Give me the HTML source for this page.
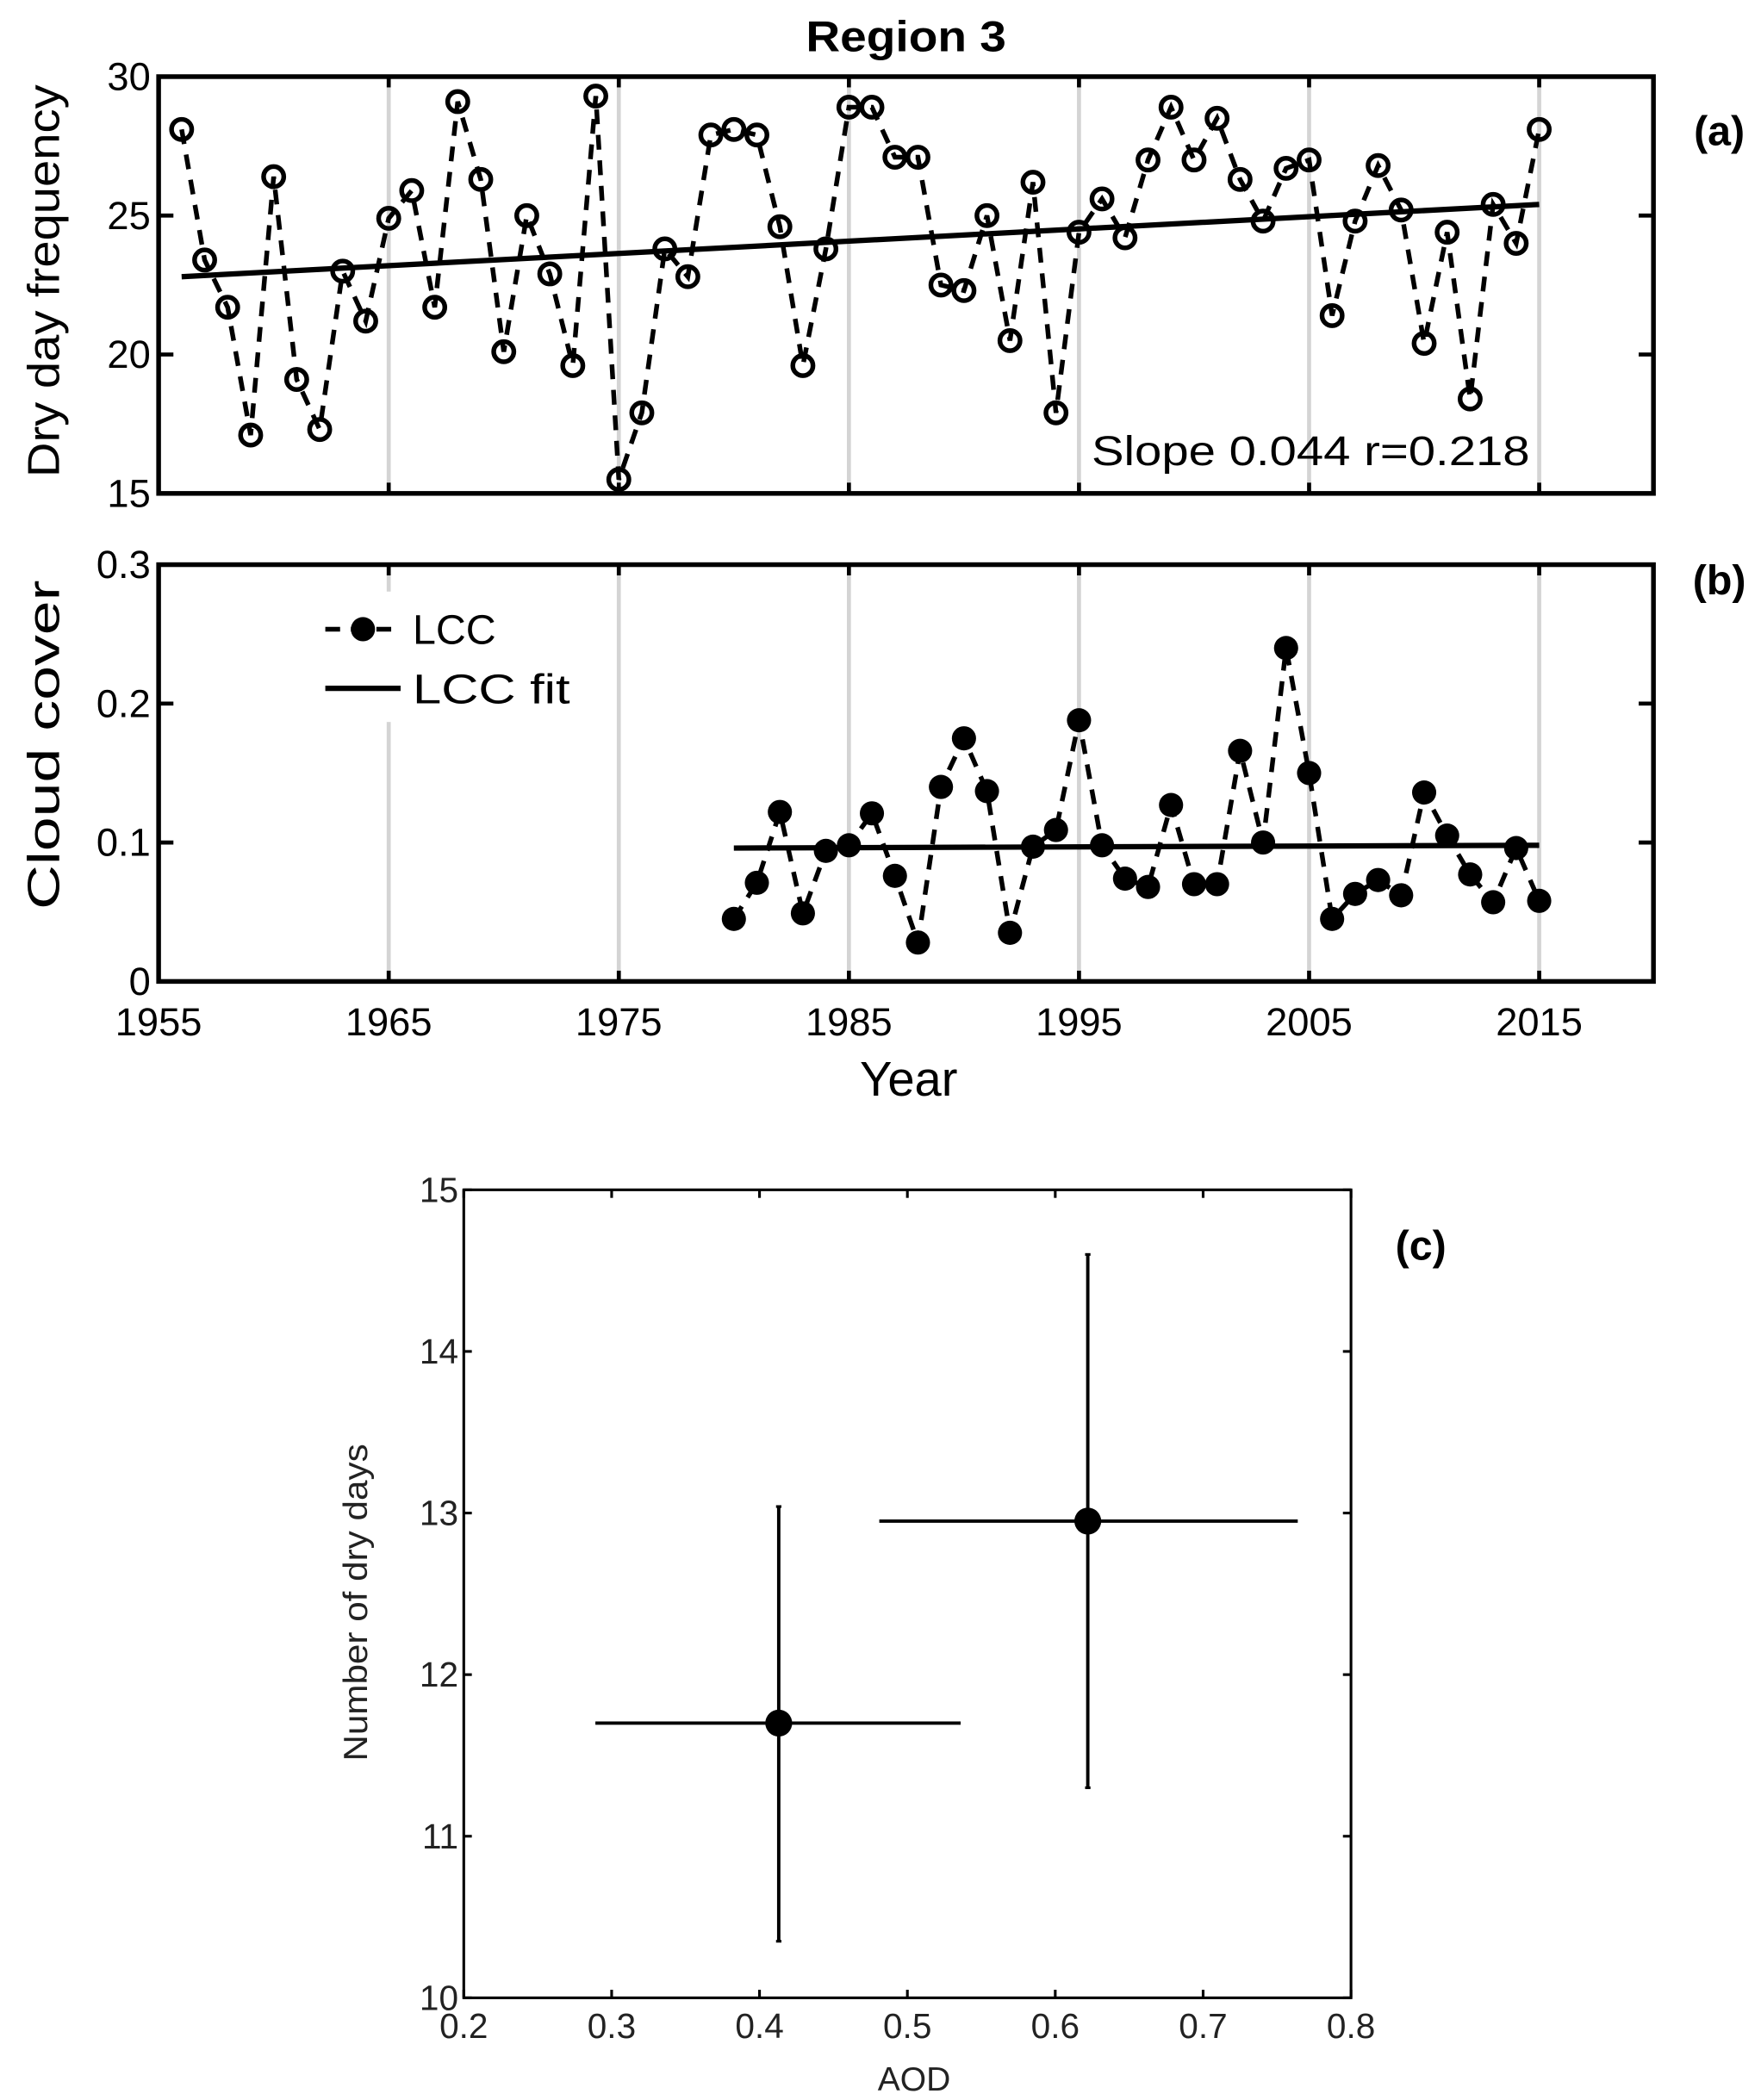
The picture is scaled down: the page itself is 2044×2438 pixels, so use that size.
<!DOCTYPE html>
<html><head><meta charset="utf-8"><style>
html,body{margin:0;padding:0;background:#fff}
svg{display:block}
text{font-family:"Liberation Sans",Arial,sans-serif}
</style></head><body>
<svg id="fig" width="2044" height="2438" viewBox="0 0 1310 1562" preserveAspectRatio="none" xmlns="http://www.w3.org/2000/svg">
<g id="pa"></g>
<g id="pb"></g>
<g id="pc"></g>
</svg>
<script>
const yearsA = [];
for (let y = 1956; y <= 2015; y++) yearsA.push(y);
const dryDays = [28.1,23.4,21.7,17.1,26.4,19.1,17.3,23.0,21.2,24.9,25.9,21.7,29.1,26.3,20.1,25.0,22.9,19.6,29.3,15.5,17.9,23.8,22.8,27.9,28.1,27.9,24.6,19.6,23.8,28.9,28.9,27.1,27.1,22.5,22.3,25.0,20.5,26.2,17.9,24.4,25.6,24.2,27.0,28.9,27.0,28.5,26.3,24.8,26.7,27.0,21.4,24.8,26.8,25.2,20.4,24.4,18.4,25.4,24.0,28.1];
const dryFit = [[1956,22.8],[2015,25.4]];
const yearsB = [];
for (let y = 1980; y <= 2015; y++) yearsB.push(y);
const lcc = [0.045,0.071,0.122,0.049,0.094,0.098,0.121,0.076,0.028,0.140,0.175,0.137,0.035,0.097,0.109,0.188,0.098,0.074,0.068,0.127,0.070,0.070,0.166,0.100,0.240,0.150,0.045,0.063,0.073,0.062,0.136,0.105,0.077,0.057,0.096,0.058];
const lccFit = [[1980,0.096],[2015,0.098]];
const xTicksYear = [1955,1965,1975,1985,1995,2005,2015];
const yTicksA = [15,20,25,30];
const yTicksB = [0,0.1,0.2,0.3];
const yTickLabelsB = ['0','0.1','0.2','0.3'];
const aod = [0.413,0.622];
const aodLo = [0.289,0.481];
const aodHi = [0.536,0.764];
const nDry = [11.7,12.95];
const nDryLo = [10.35,11.3];
const nDryHi = [13.04,14.6];
const xTicksC = [0.2,0.3,0.4,0.5,0.6,0.7,0.8];
const yTicksC = [10,11,12,13,14,15];

const NS='http://www.w3.org/2000/svg';
function mk(parent, tag, attrs, txt){
  const e=document.createElementNS(NS,tag);
  for(const k in attrs) e.setAttribute(k,attrs[k]);
  if(txt!==undefined) e.textContent=txt;
  parent.appendChild(e); return e;
}
const L=118,R=1230;
const X=y=>L+(y-1955)*(1145-L)/60;
const YA=v=>367-(v-15)*(367-57)/15;
const YB=v=>730-v*(310/0.3);

// Panel A
const pa=document.getElementById('pa');
let t=mk(pa,'text',{x:674,y:38,'font-size':32,'font-weight':'bold','text-anchor':'middle',textLength:149,lengthAdjust:'spacingAndGlyphs'},'Region 3');


function grid(g,top,bot){
  xTicksYear.slice(1).forEach(y=>{
    const l=mk(g,'line',{x1:X(y),x2:X(y),y1:top,y2:bot,stroke:'#d4d4d4','stroke-width':3});
    
    
    mk(g,'line',{x1:X(y),x2:X(y),y1:top,y2:top+8,stroke:'#000','stroke-width':3});
    mk(g,'line',{x1:X(y),x2:X(y),y1:bot,y2:bot-8,stroke:'#000','stroke-width':3});
  });
}
grid(pa,57,367);
let d='';
yearsA.forEach((y,i)=>{d+=(i?'L':'M')+X(y)+','+YA(dryDays[i]);});
let p=mk(pa,'path',{d:d,fill:'none',stroke:'#000','stroke-width':3.5,'stroke-dasharray':'11,8'});


let fl=mk(pa,'line',{x1:X(dryFit[0][0]),y1:YA(dryFit[0][1]),x2:X(dryFit[1][0]),y2:YA(dryFit[1][1]),stroke:'#000','stroke-width':4});


yearsA.forEach((y,i)=>{
  const c=mk(pa,'circle',{cx:X(y),cy:YA(dryDays[i]),r:7.5,fill:'none',stroke:'#000','stroke-width':3.5});
  
  
});
let bx=mk(pa,'rect',{x:L,y:57,width:R-L,height:310,fill:'none',stroke:'#000','stroke-width':3.5});


yTicksA.forEach(v=>{
  mk(pa,'line',{x1:L,x2:L+11,y1:YA(v),y2:YA(v),stroke:'#000','stroke-width':3});
  mk(pa,'line',{x1:R,x2:R-11,y1:YA(v),y2:YA(v),stroke:'#000','stroke-width':3});
  const tt=mk(pa,'text',{x:L-6,y:YA(v)+10,'font-size':29,'text-anchor':'end'},String(v));
  
  
});
t=mk(pa,'text',{x:0,y:0,'font-size':33,'text-anchor':'middle',transform:'translate(44,209) rotate(-90)',textLength:292,lengthAdjust:'spacingAndGlyphs'},'Dry day frequency');


t=mk(pa,'text',{x:975,y:346,'font-size':31,'text-anchor':'middle',textLength:326,lengthAdjust:'spacingAndGlyphs'},'Slope 0.044 r=0.218');


t=mk(pa,'text',{x:1279,y:108,'font-size':31,'font-weight':'bold','text-anchor':'middle'},'(a)');



// Panel B
const pb=document.getElementById('pb');
grid(pb,420,730);
let lg=mk(pb,'rect',{x:150,y:440,width:290,height:97,fill:'#fff'});


d='';
yearsB.forEach((y,i)=>{d+=(i?'L':'M')+X(y)+','+YB(lcc[i]);});
p=mk(pb,'path',{d:d,fill:'none',stroke:'#000','stroke-width':3.5,'stroke-dasharray':'11,8'});


fl=mk(pb,'line',{x1:X(lccFit[0][0]),y1:YB(lccFit[0][1]),x2:X(lccFit[1][0]),y2:YB(lccFit[1][1]),stroke:'#000','stroke-width':4});


yearsB.forEach((y,i)=>{
  const c=mk(pb,'circle',{cx:X(y),cy:YB(lcc[i]),r:9,fill:'#000'});
  
  
});
bx=mk(pb,'rect',{x:L,y:420,width:R-L,height:310,fill:'none',stroke:'#000','stroke-width':3.5});


yTicksB.forEach((v,i)=>{
  mk(pb,'line',{x1:L,x2:L+11,y1:YB(v),y2:YB(v),stroke:'#000','stroke-width':3});
  mk(pb,'line',{x1:R,x2:R-11,y1:YB(v),y2:YB(v),stroke:'#000','stroke-width':3});
  const tt=mk(pb,'text',{x:L-6,y:YB(v)+10,'font-size':29,'text-anchor':'end'},yTickLabelsB[i]);
  
  
});
xTicksYear.forEach(y=>{
  const tt=mk(pb,'text',{x:X(y),y:770,'font-size':29,'text-anchor':'middle'},String(y));
  
  
});
t=mk(pb,'text',{x:676,y:815,'font-size':36,'text-anchor':'middle'},'Year');


t=mk(pb,'text',{x:0,y:0,'font-size':33,'text-anchor':'middle',transform:'translate(44,554) rotate(-90)',textLength:245,lengthAdjust:'spacingAndGlyphs'},'Cloud cover');


t=mk(pb,'text',{x:1279,y:442,'font-size':31,'font-weight':'bold','text-anchor':'middle'},'(b)');


let le=mk(pb,'g',{});


mk(le,'line',{x1:242,x2:298,y1:468,y2:468,stroke:'#000','stroke-width':3.5,'stroke-dasharray':'11,8'});
mk(le,'circle',{cx:270,cy:468,r:9,fill:'#000'});
mk(le,'text',{x:307,y:479,'font-size':31},'LCC');
le=mk(pb,'g',{});


mk(le,'line',{x1:242,x2:298,y1:512,y2:512,stroke:'#000','stroke-width':4});
mk(le,'text',{x:307,y:523,'font-size':31,textLength:117,lengthAdjust:'spacingAndGlyphs'},'LCC  fit');

// Panel C
const pc=document.getElementById('pc');
const CL=345,CR=1005,CT=885,CB=1486;
const XC=v=>CL+(v-0.2)*(CR-CL)/0.6;
const YC=v=>CB-(v-10)*(CB-CT)/5;
aod.forEach((a,i)=>{
  const g=mk(pc,'g',{});
  
  
  mk(g,'line',{x1:XC(aodLo[i]),x2:XC(aodHi[i]),y1:YC(nDry[i]),y2:YC(nDry[i]),stroke:'#000','stroke-width':2.5});
  mk(g,'line',{x1:XC(a),x2:XC(a),y1:YC(nDryLo[i]),y2:YC(nDryHi[i]),stroke:'#000','stroke-width':2.5});
  mk(g,'line',{x1:XC(a)-2,x2:XC(a)+2,y1:YC(nDryLo[i]),y2:YC(nDryLo[i]),stroke:'#000','stroke-width':2});
  mk(g,'line',{x1:XC(a)-2,x2:XC(a)+2,y1:YC(nDryHi[i]),y2:YC(nDryHi[i]),stroke:'#000','stroke-width':2});
  mk(g,'circle',{cx:XC(a),cy:YC(nDry[i]),r:10,fill:'#000'});
});
bx=mk(pc,'rect',{x:CL,y:CT,width:CR-CL,height:CB-CT,fill:'none',stroke:'#000','stroke-width':2});


xTicksC.forEach(v=>{
  mk(pc,'line',{x1:XC(v),x2:XC(v),y1:CB,y2:CB-6,stroke:'#000','stroke-width':2});
  mk(pc,'line',{x1:XC(v),x2:XC(v),y1:CT,y2:CT+6,stroke:'#000','stroke-width':2});
  const tt=mk(pc,'text',{x:XC(v),y:CB+30,'font-size':26,'text-anchor':'middle',fill:'#222'},v.toFixed(1));
  
  
});
yTicksC.forEach(v=>{
  mk(pc,'line',{x1:CL,x2:CL+6,y1:YC(v),y2:YC(v),stroke:'#000','stroke-width':2});
  mk(pc,'line',{x1:CR,x2:CR-6,y1:YC(v),y2:YC(v),stroke:'#000','stroke-width':2});
  const tt=mk(pc,'text',{x:CL-4,y:YC(v)+9,'font-size':26,'text-anchor':'end',fill:'#222'},String(v));
  
  
});
t=mk(pc,'text',{x:680,y:1555,'font-size':25,'text-anchor':'middle',fill:'#222'},'AOD');


t=mk(pc,'text',{x:0,y:0,'font-size':25,'text-anchor':'middle',fill:'#222',transform:'translate(273,1192) rotate(-90)',textLength:236,lengthAdjust:'spacingAndGlyphs'},'Number of dry days');


t=mk(pc,'text',{x:1057,y:937,'font-size':31,'font-weight':'bold','text-anchor':'middle'},'(c)');


</script>
</body></html>
